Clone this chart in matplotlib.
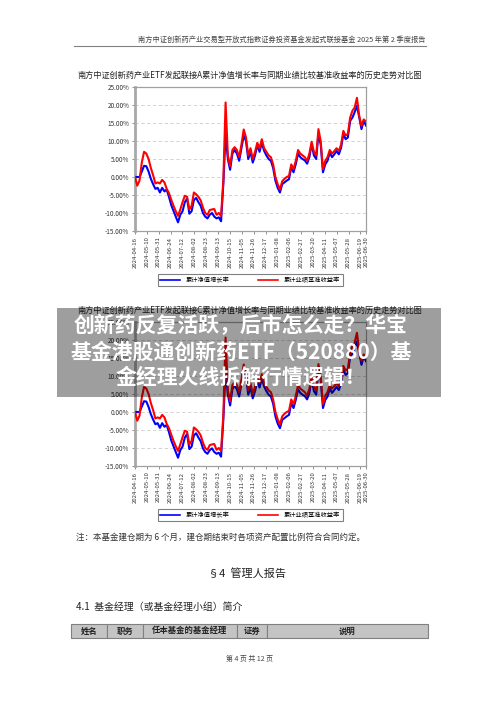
import matplotlib
matplotlib.use("Agg")
import matplotlib.pyplot as plt
import numpy as np
from matplotlib.patches import Rectangle
from matplotlib.lines import Line2D

plt.rcParams['font.family'] = ['Noto Sans CJK SC', 'DejaVu Sans']

# ---------------------------------------------------------------------------------
# data: cumulative returns (%), evenly sampled from 2024-04-16 to 2025-06-30

nav_a = [0.0, 0.0, 0.0, 1.5, 3.1, 3.0, 1.5, -0.5, -2.0, -3.3,
         -3.0, -4.3, -3.0, -4.0, -3.5, -5.5, -7.8, -9.4, -11.0, -12.6,
         -10.5, -9.5, -7.0, -6.0, -10.2, -9.5, -6.4, -5.8, -7.0, -8.0,
         -10.0, -11.0, -11.5, -10.5, -10.0, -11.0, -11.5, -11.2, -12.3, -2.0,
         12.0, 5.0, 2.0, 6.5, 7.5, 6.5, 4.5, 8.0, 11.5, 10.0,
         5.0, 7.0, 4.0, 6.0, 8.8, 7.0, 9.5, 7.3, 6.0, 5.0,
         4.5, 2.5, -1.0, -3.0, -4.3, -2.0, -1.5, -1.0, -0.6, 2.7,
         1.3, 3.6, 6.5, 5.5, 5.0, 4.6, 3.7, 5.5, 9.2, 6.0,
         5.0, 12.0, 9.0, 1.3, 3.5, 4.5, 6.8, 5.5, 6.3, 7.2,
         6.3, 8.1, 12.0, 10.5, 11.0, 15.6, 16.5, 18.0, 19.8, 16.6,
         13.3, 15.6, 14.3]

nav_c = [0.0, 0.0, 0.0, 1.5, 3.0, 2.9, 1.4, -0.6, -2.1, -3.4,
         -3.1, -4.4, -3.1, -4.1, -3.6, -5.6, -7.9, -9.5, -11.1, -12.7,
         -10.6, -9.6, -7.1, -6.1, -10.3, -9.6, -6.5, -5.9, -7.1, -8.1,
         -10.1, -11.1, -11.6, -10.6, -10.1, -11.1, -11.6, -11.3, -12.4, -2.2,
         11.8, 4.8, 1.8, 6.3, 7.3, 6.3, 4.3, 7.8, 11.3, 9.8,
         4.8, 6.8, 3.8, 5.8, 8.6, 6.8, 9.3, 7.1, 5.8, 4.8,
         4.3, 2.3, -1.2, -3.2, -4.5, -2.2, -1.7, -1.2, -0.8, 2.5,
         1.1, 3.4, 6.3, 5.3, 4.8, 4.4, 3.5, 5.3, 9.0, 5.8,
         4.8, 11.8, 8.8, 1.1, 3.3, 4.3, 6.6, 5.3, 6.1, 7.0,
         6.1, 7.9, 11.8, 10.3, 10.8, 15.4, 16.3, 17.8, 19.6, 16.4,
         13.1, 15.4, 14.1]

bench = [0.0, -2.4, -1.0, 4.0, 7.0, 6.5, 5.0, 2.5, 0.5, -1.8,
         -1.5, -1.8, -0.8, -1.5, -3.3, -4.5, -6.3, -8.0, -9.5, -10.8,
         -9.0, -7.0, -5.2, -5.5, -9.0, -8.0, -4.3, -4.8, -5.5, -6.5,
         -8.5, -10.0, -10.5, -9.2, -9.0, -8.9, -10.5, -10.0, -10.8, -1.0,
         20.7, 6.0, 3.0, 7.5, 8.3, 7.5, 5.5, 9.0, 13.2, 11.0,
         6.0, 8.0, 5.0, 7.0, 9.5, 8.0, 10.5, 8.0, 7.0, 6.0,
         5.5, 3.5, 0.0, -2.0, -3.5, -1.2, -0.5, 0.0, 0.3, 3.5,
         2.2, 4.5, 7.5, 6.5, 6.0, 5.5, 4.5, 6.5, 9.8, 7.0,
         6.0, 13.3, 10.0, 2.2, 4.5, 5.5, 7.5, 6.5, 7.2, 8.0,
         7.2, 9.0, 12.8, 11.5, 12.0, 16.5, 18.4, 19.3, 22.0, 17.0,
         14.2, 16.0, 15.3]

# trading-day index of each date label (last one is the final day)
tick_days = [0, 15, 30, 45, 60, 75, 90, 105, 120, 135, 150, 165, 180,
             195, 210, 225, 240, 255, 270, 285, 292]
date_labels = ['2024-04-16', '2024-05-10', '2024-05-31', '2024-06-24', '2024-07-12',
               '2024-08-02', '2024-08-23', '2024-09-13', '2024-10-15', '2024-11-05',
               '2024-11-26', '2024-12-17', '2025-01-08', '2025-02-06', '2025-02-27',
               '2025-03-20', '2025-04-11', '2025-05-07', '2025-05-28', '2025-06-19',
               '2025-06-30']
y_ticks = [-15, -10, -5, 0, 5, 10, 15, 20, 25]

title_a = "南方中证创新药产业ETF发起联接A累计净值增长率与同期业绩比较基准收益率的历史走势对比图"
title_c = "南方中证创新药产业ETF发起联接C累计净值增长率与同期业绩比较基准收益率的历史走势对比图"
legend_labels = ["累计净值增长率", "累计业绩基准收益率"]

W, H = 500.0, 706.0

# ---------------------------------------------------------------------------------

def fx(x):
  return x / W

def fy(y):
  return 1 - y / H

def draw_chart(fig, top, title, nav, bm):
  ax = fig.add_axes([fx(135), fy(top + 144), 231 / W, 144 / H])
  last = tick_days[-1]
  ax.plot(np.linspace(0, last, len(nav)), nav, color='#0000ff', lw=1.5, zorder=3)
  ax.plot(np.linspace(0, last, len(bm)), bm, color='#ff0000', lw=1.5, zorder=4)
  ax.set_xlim(0, last)
  ax.set_ylim(-15, 25)
  ax.set_yticks(y_ticks)
  ax.set_yticklabels(['%.2f%%' % v for v in y_ticks], fontsize=4.6, color='#333333')
  ax.set_xticks(tick_days)
  ax.set_xticklabels(date_labels, rotation=90, fontsize=4.3, color='#333333')
  ax.grid(axis='y', ls=(0, (4, 3)), color='#cccccc', lw=0.6)
  ax.tick_params(length=2.5, width=0.6, color='#808080', pad=1.5)
  for s in ['top', 'right', 'bottom']:
    ax.spines[s].set_color('#a0a0a0')
    ax.spines[s].set_linewidth(0.9)
  ax.spines['left'].set_color('#a8a8a8')
  ax.spines['left'].set_linewidth(2.0)
  fig.text(0.5, fy(top - 12), title, fontsize=5.9, ha='center', va='center', color='#222222')
  h1 = Line2D([], [], color='#0000ff', lw=1.2)
  h2 = Line2D([], [], color='#ff0000', lw=1.2)
  leg = fig.legend([h1, h2], legend_labels, loc='center', bbox_to_anchor=(fx(250), fy(top + 193)),
                   ncol=2, fontsize=4.5, fancybox=False, edgecolor='#808080', framealpha=1,
                   handlelength=3.2, columnspacing=4.5, borderpad=0.35, handletextpad=1.0)
  leg.get_frame().set_linewidth(0.8)
  return ax

# ---------------------------------------------------------------------------------

fig = plt.figure(figsize=(5, 7.06), dpi=100)
fig.patch.set_facecolor('white')

fig.text(fx(425), fy(40), "南方中证创新药产业交易型开放式指数证券投资基金发起式联接基金 2025 年第 2 季度报告",
         fontsize=5.2, ha='right', va='center', color='#444444')
fig.add_artist(Line2D([fx(74), fx(426)], [fy(46), fy(46)], transform=fig.transFigure,
                      color='#808080', lw=0.8))

draw_chart(fig, 87, title_a, nav_a, bench)
draw_chart(fig, 322, title_c, nav_c, bench)

fig.text(fx(76), fy(537), "注：本基金建仓期为 6 个月，建仓期结束时各项资产配置比例符合合同约定。",
         fontsize=6.1, ha='left', va='center', color='#333333')
fig.text(fx(247), fy(573), "§4  管理人报告", fontsize=8, ha='center', va='center', color='#222222')
fig.text(fx(76), fy(607), "4.1  基金经理（或基金经理小组）简介", fontsize=7.1, ha='left', va='center',
         color='#222222')

# table header
col_edges = [71, 107, 143, 237, 267, 428]
col_names = ["姓名", "职务", "任本基金的基金经理", "证券", "说明"]
for i in range(len(col_names)):
  x0, x1 = col_edges[i], col_edges[i + 1]
  fig.add_artist(Rectangle((fx(x0), fy(638)), (x1 - x0) / W, 14 / H, transform=fig.transFigure,
                           facecolor='#c4c4c4', edgecolor='#808080', lw=0.8))
  fig.text(fx((x0 + x1) / 2), fy(631), col_names[i], fontsize=6, fontweight='bold',
           ha='center', va='center', color='#222222')

fig.text(fx(250), fy(659), "第 4 页 共 12 页", fontsize=5, ha='center', va='center', color='#444444')

# overlay banner
fig.add_artist(Rectangle((fx(57), fy(397)), 384 / W, 89 / H, transform=fig.transFigure,
                         facecolor='black', alpha=0.38, lw=0, zorder=10))
banner = ["创新药反复活跃，后市怎么走？华宝",
          "基金港股通创新药ETF（520880）基",
          "金经理火线拆解行情逻辑！"]
for line, yy in zip(banner, [326, 352, 377]):
  fig.text(fx(241), fy(yy), line, fontsize=15, fontweight='bold', color='white',
           ha='center', va='center', zorder=11)

plt.savefig("out.png", dpi=100)
